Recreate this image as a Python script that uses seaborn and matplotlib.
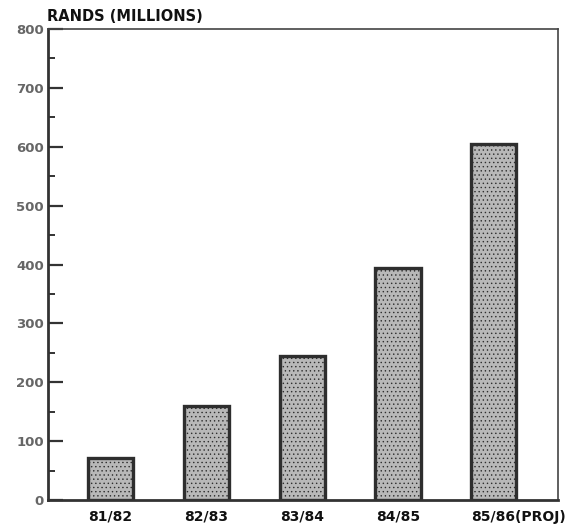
import pandas as pd
import matplotlib
matplotlib.use("Agg")
import matplotlib.pyplot as plt
import matplotlib.transforms as mtransforms
import seaborn as sns
from matplotlib.ticker import MultipleLocator

years = ["81/82", "82/83", "83/84", "84/85", "85/86(PROJ)"]
rands = [72, 160, 245, 395, 605]

df = pd.DataFrame({"Year": years, "Rands": rands})

sns.set_style("white")
plt.rcParams['font.family'] = ['DejaVu Sans']
plt.rcParams['hatch.color'] = "#8f8f8f"
plt.rcParams['hatch.linewidth'] = 0.5

fig = plt.figure(figsize=(5.79, 5.26), dpi=100)
ax = fig.add_axes([0.083, 0.049, 0.881, 0.896])

sns.barplot(x="Year", y="Rands", data=df, color="#b8b8b8", width=0.47,
            edgecolor="#2e2e2e", linewidth=2.4, saturation=1, ax=ax)
for p in ax.patches:
    p.set_hatch("....")

ax.set_ylim(0, 800)
ax.set_xlim(-0.65, 4.67)
ax.yaxis.set_major_locator(MultipleLocator(100))
ax.yaxis.set_minor_locator(MultipleLocator(50))
ax.tick_params(axis='y', which='major', direction='in', left=True, length=11,
               width=1.6, color="#333333", labelsize=9.5, labelcolor="#666666", pad=3)
ax.tick_params(axis='y', which='minor', direction='in', left=True, length=5,
               width=1.4, color="#333333")
ax.tick_params(axis='x', length=0, labelsize=10, pad=7)
for lab in ax.get_yticklabels():
    lab.set_fontweight('bold')
ax.get_yticklabels()[-1].set_color("black")
for lab in ax.get_xticklabels():
    lab.set_fontweight('bold')
    lab.set_color("#111111")

# the projected label starts at the bar's left edge, like the original
last = ax.get_xticklabels()[-1]
last.set_horizontalalignment('left')
last.set_transform(last.get_transform() +
                   mtransforms.ScaledTranslation(-0.23, 0, fig.dpi_scale_trans))

ax.set_xlabel("")
ax.set_ylabel("")

for side in ["left", "bottom"]:
    ax.spines[side].set_linewidth(2.0)
    ax.spines[side].set_color("#333333")
for side in ["top", "right"]:
    ax.spines[side].set_linewidth(1.2)
    ax.spines[side].set_color("#444444")

fig.text(0.081, 0.955, "RANDS (MILLIONS)", fontsize=10.5, fontweight='bold',
         ha='left', va='bottom', color="#111111")

fig.savefig("out.png", dpi=100)
